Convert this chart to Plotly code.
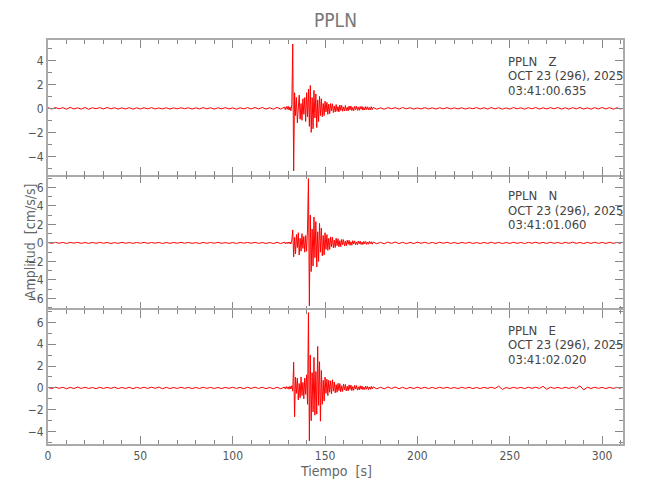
import numpy as np
import plotly.graph_objects as go
from plotly.subplots import make_subplots

# ---------------- data (amplitudes, cm/s/s) ----------------
station = "PPLN"
components = ["Z", "N", "E"]
start_times = ["03:41:00.635", "03:41:01.060", "03:41:02.020"]
date_label = "OCT 23 (296), 2025"

# segment sampling (start s, step s)
pre_start, pre_step = 0.0, 2.0
burst_start, burst_step = 128.0, 0.5
post_start, post_step = 176.0, 2.0

z_pre = [0.05,-0.06,0.07,-0.04,0.06,-0.07,0.08,-0.05, 0.04,-0.06,0.07,-0.08,0.05,-0.03,0.06,-0.05,
         0.07,-0.04,0.05,-0.06,0.04,-0.05,0.06,-0.07, 0.04,-0.05,0.05,-0.04,0.06,-0.05,0.03,-0.05,
         0.05,-0.06,0.04,-0.04,0.05,-0.03,0.05,-0.06, 0.04,-0.05,0.06,-0.04,0.05,-0.06,0.05,-0.04,
         0.06,-0.05,0.04,-0.07,0.05,-0.04,0.06,-0.05, 0.07,-0.05,0.07,-0.06,0.05,-0.07,0.08,-0.06]
z_burst = [0.1,-0.12,0.15,-0.08,0.18,-0.14,0.12,-0.2,
           0.3,5.35,-5.2,1.3,-0.6,0.9,-1.2,0.5,
           1.1,-0.9,0.4,-1.0,0.8,-0.5,0.9,-1.1,
           1.3,-0.7,1.6,-1.5,1.9,-2.0,0.9,-1.7,
           1.5,-0.8,1.2,-1.6,0.7,-1.1,1.0,-0.6,
           0.8,-0.7,0.4,-0.6,0.6,-0.3,0.5,-0.5,
           0.35,-0.45,0.4,-0.2,0.38,-0.35,0.2,-0.3,
           0.32,-0.25,0.15,-0.3,0.28,-0.18,0.25,-0.24,
           0.12,-0.22,0.24,-0.2,0.1,-0.21,0.2,-0.12,
           0.19,-0.18,0.08,-0.2,0.17,-0.1,0.18,-0.16,
           0.1,-0.17,0.15,-0.08,0.16,-0.15,0.09,-0.14,
           0.15,-0.1,0.13,-0.14,0.08,-0.13,0.14,-0.1]
z_post = [0.08,-0.07,0.04,-0.07,0.06,-0.03,0.06,-0.06, 0.07,-0.04,0.05,-0.06,0.03,-0.05,0.06,-0.05,
          0.04,-0.06,0.05,-0.04,0.06,-0.05,0.04,-0.05, 0.05,-0.06,0.04,-0.03,0.06,-0.05,0.05,-0.06,
          0.07,-0.05,0.06,-0.07,0.04,-0.06,0.07,-0.04, 0.05,-0.07,0.06,-0.04,0.07,-0.06,0.05,-0.05,
          0.06,-0.04,0.07,-0.06,0.05,-0.07,0.06,-0.04, 0.07,-0.06,0.04,-0.07,0.06,-0.05,0.07,-0.05,
          0.06,-0.07,0.05,-0.06]

n_pre = [0.04,-0.05,0.06,-0.04,0.05,-0.06,0.05,-0.03, 0.06,-0.05,0.04,-0.05,0.05,-0.04,0.06,-0.04,
         0.05,-0.06,0.03,-0.05,0.06,-0.04,0.04,-0.05, 0.05,-0.04,0.06,-0.05,0.04,-0.03,0.05,-0.06,
         0.04,-0.05,0.05,-0.04,0.06,-0.04,0.05,-0.05, 0.03,-0.06,0.05,-0.04,0.05,-0.04,0.06,-0.05,
         0.04,-0.05,0.04,-0.06,0.05,-0.03,0.05,-0.04, 0.06,-0.05,0.04,-0.06,0.05,-0.07,0.06,-0.07]
n_burst = [0.08,-0.1,0.06,-0.09,0.1,-0.07,0.1,-0.12,
           0.3,1.4,-1.5,0.6,-1.2,0.9,-0.5,1.1,
           -1.3,0.5,-0.9,1.0,-0.6,0.7,-1.0,0.8,
           -0.9,1.5,6.95,-6.8,3.0,-3.1,1.5,-2.5,
           2.8,-1.6,2.3,-2.6,1.2,-2.0,2.1,-1.0,
           1.6,-1.4,0.8,-1.3,1.1,-0.7,0.9,-0.8,
           0.5,-0.7,0.65,-0.4,0.6,-0.55,0.3,-0.5,
           0.5,-0.3,0.45,-0.42,0.25,-0.4,0.38,-0.2,
           0.35,-0.33,0.18,-0.3,0.3,-0.15,0.28,-0.26,
           0.12,-0.25,0.24,-0.12,0.22,-0.2,0.1,-0.2,
           0.2,-0.1,0.18,-0.17,0.08,-0.18,0.17,-0.1,
           0.15,-0.16,0.09,-0.14,0.16,-0.08,0.13,-0.14]
n_post = [0.1,-0.09,0.06,-0.09,0.08,-0.05,0.09,-0.07, 0.07,-0.08,0.05,-0.07,0.08,-0.05,0.07,-0.07,
          0.06,-0.07,0.07,-0.04,0.07,-0.06,0.05,-0.07, 0.06,-0.05,0.07,-0.06,0.04,-0.07,0.05,-0.05,
          0.07,-0.05,0.06,-0.07,0.04,-0.06,0.07,-0.05, 0.05,-0.07,0.06,-0.04,0.07,-0.05,0.05,-0.06,
          0.07,-0.05,0.05,-0.07,0.06,-0.04,0.07,-0.05, 0.05,-0.07,0.06,-0.05,0.07,-0.05,0.05,-0.06,
          0.07,-0.05,0.06,-0.07]

e_pre = [0.05,-0.07,0.07,-0.04,0.06,-0.08,0.05,-0.06, 0.08,-0.05,0.06,-0.05,0.04,-0.07,0.06,-0.05,
         0.05,-0.04,0.06,-0.06,0.04,-0.05,0.06,-0.07, 0.05,-0.04,0.06,-0.05,0.07,-0.04,0.08,-0.08,
         0.05,-0.06,0.04,-0.05,0.06,-0.04,0.05,-0.06, 0.04,-0.05,0.06,-0.04,0.05,-0.05,0.04,-0.06,
         0.05,-0.04,0.06,-0.05,0.05,-0.07,0.06,-0.05, 0.07,-0.05,0.06,-0.07,0.05,-0.08,0.07,-0.08]
e_burst = [0.08,-0.1,0.12,-0.07,0.1,-0.12,0.15,-0.1,
           0.2,-0.3,2.35,-2.65,1.0,-0.5,0.9,-1.1,
           0.4,-0.9,1.0,-0.7,0.5,-1.0,0.9,-0.6,
           1.2,-1.5,6.9,-4.85,3.0,-3.0,1.4,-2.2,
           2.8,-2.5,1.5,-2.4,3.8,-1.6,2.4,-3.05,
           1.6,-1.5,0.7,-1.2,1.0,-0.5,0.8,-0.7,
           0.7,-0.4,0.65,-0.55,0.75,-0.3,0.55,-0.45,
           0.3,-0.4,0.42,-0.25,0.4,-0.35,0.2,-0.32,
           0.35,-0.18,0.32,-0.28,0.15,-0.27,0.28,-0.14,
           0.26,-0.24,0.12,-0.22,0.23,-0.1,0.22,-0.2,
           0.1,-0.18,0.2,-0.12,0.17,-0.16,0.08,-0.15,
           0.16,-0.12,0.14,-0.15,0.09,-0.13,0.14,-0.1]
e_post = [0.1,-0.08,0.06,-0.09,0.08,-0.05,0.08,-0.07, 0.06,-0.08,0.05,-0.06,0.07,-0.05,0.06,-0.06,
          0.05,-0.06,0.06,-0.04,0.06,-0.05,0.04,-0.06, 0.06,-0.04,0.06,-0.06,0.04,-0.06,0.05,-0.04,
          0.06,-0.05,0.16,-0.14,0.04,-0.06,0.06,-0.04, 0.05,-0.06,0.06,-0.04,0.06,-0.05,0.15,-0.13,
          0.06,-0.04,0.05,-0.06,0.06,-0.04,0.06,-0.05, 0.2,-0.18,0.06,-0.05,0.06,-0.04,0.05,-0.06,
          0.06,-0.05,0.06,-0.06]

series = {"Z": (z_pre, z_burst, z_post),
          "N": (n_pre, n_burst, n_post),
          "E": (e_pre, e_burst, e_post)}

y_ranges = [[-5.56, 5.69], [-7.2, 7.32], [-5.14, 7.18]]
x_range = [0, 311.3]

# ---------------- figure ----------------
fig = make_subplots(rows=3, cols=1, shared_xaxes=True, vertical_spacing=0,
                    row_heights=[135, 134.3, 134.3])

FONT = "DejaVu Sans Condensed, Liberation Sans Narrow, sans-serif"
AX = "#aaaaaa"
TK = "#888888"

def build(vals):
    pre, burst, post = vals
    t = list(pre_start + pre_step * np.arange(len(pre)))
    t += list(burst_start + burst_step * np.arange(len(burst)))
    t += list(post_start + post_step * np.arange(len(post)))
    return np.array(t), np.array(list(pre) + list(burst) + list(post))

for i, comp in enumerate(components):
    t, y = build(series[comp])
    fig.add_trace(go.Scatter(x=t, y=y, mode="lines",
                             line=dict(color="red", width=1),
                             showlegend=False, hoverinfo="skip"),
                  row=i + 1, col=1)

for i in range(3):
    fig.update_xaxes(range=x_range, tick0=0, dtick=50, ticks="inside", ticklen=8,
                     tickwidth=1.2, tickcolor=TK,
                     showline=(i != 1), linecolor=AX,
                     linewidth=2, mirror="ticks", showgrid=False, zeroline=False,
                     automargin=False,
                     minor=dict(dtick=10, ticks="inside", ticklen=4, tickcolor=TK,
                                tickwidth=1, showgrid=False),
                     tickfont=dict(family=FONT, size=12, color="#555555"),
                     row=i + 1, col=1)
    fig.update_yaxes(range=y_ranges[i], tick0=0, dtick=2, ticks="inside", ticklen=8,
                     tickwidth=1.2, tickcolor=TK, showline=True, linecolor=AX,
                     linewidth=2, mirror="ticks", showgrid=False, zeroline=False,
                     automargin=False,
                     minor=dict(dtick=1, ticks="inside", ticklen=4, tickcolor=TK,
                                tickwidth=1, showgrid=False),
                     tickfont=dict(family=FONT, size=12, color="#555555"),
                     row=i + 1, col=1)

# station labels in each panel
ann_tops = [0.948, 0.6148, 0.2812]
for i, comp in enumerate(components):
    lines = [f"{station}   {comp}", date_label, start_times[i]]
    for k, txt in enumerate(lines):
        fig.add_annotation(xref="paper", yref="paper", x=0.797,
                           y=ann_tops[i] - k * 0.0359, xanchor="left", yanchor="middle",
                           text=txt, showarrow=False,
                           font=dict(family=FONT, size=13, color="#444444"))

fig.add_annotation(xref="paper", yref="paper", x=0.5, y=1.0 + 20 / 404.3,
                   xanchor="center", yanchor="middle", text=station, showarrow=False,
                   font=dict(family=FONT, size=19, color="#777777"))
fig.add_annotation(xref="paper", yref="paper", x=-18 / 575.3, y=0.5,
                   xanchor="center", yanchor="middle", textangle=-90,
                   text="Amplitud  [cm/s/s]", showarrow=False,
                   font=dict(family=FONT, size=14, color="#666666"))
fig.add_annotation(xref="paper", yref="paper", x=0.5, y=-27 / 404.3,
                   xanchor="center", yanchor="middle",
                   text="Tiempo  [s]", showarrow=False,
                   font=dict(family=FONT, size=14, color="#666666"))

# the page body adds an 8 px offset, so margins are reduced by 8 px on left/top
fig.update_layout(width=650, height=500, margin=dict(l=40, r=35, t=32, b=64),
                  plot_bgcolor="white", paper_bgcolor="white")

fig.write_html("out.html")
